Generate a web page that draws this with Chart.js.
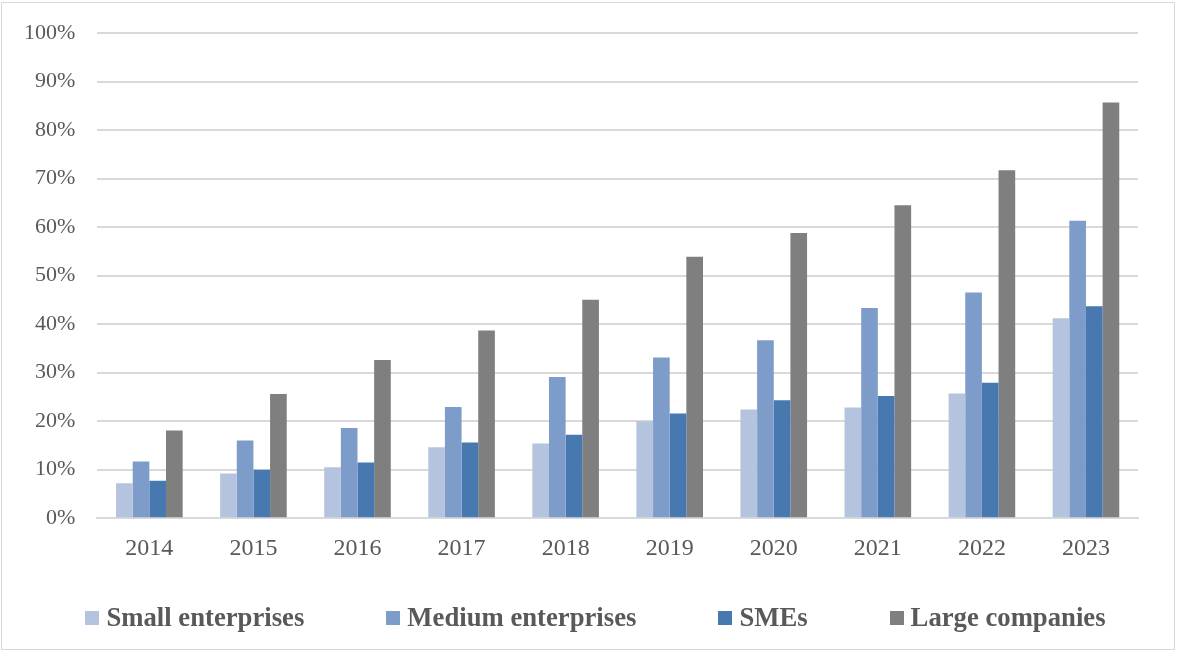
<!DOCTYPE html>
<html>
<head>
<meta charset="utf-8">
<script src="https://cdn.jsdelivr.net/npm/chart.js@4/dist/chart.umd.min.js"></script>
<style>
  html, body { margin: 0; padding: 0; background: #fff; }
  #wrap {
    position: absolute; left: 1px; top: 2px;
    width: 1174px; height: 648px;
    border: 1px solid #d9d9d9;
    box-sizing: border-box;
  }
  #chartBox { position: absolute; left: 0; top: 0; right: 0; bottom: 0; }
  canvas { display: block; }
  #legend {
    position: absolute; left: 0; right: 0; top: 599px;
    padding-left: 15px;
    display: flex; justify-content: center; align-items: center;
    gap: 82px;
    font-family: "Liberation Serif", "Times New Roman", serif;
    font-weight: bold; font-size: 26.7px; color: #595959;
  }
  #legend .item { display: flex; align-items: center; white-space: nowrap; }
  #legend .swatch { width: 14px; height: 14px; margin-right: 7px; }
</style>
</head>
<body>
<div id="wrap">
  <div id="chartBox"><canvas id="chart"></canvas></div>
  <div id="legend"></div>
</div>
<script>
// Share of enterprises per year, in percent
const years = ['2014', '2015', '2016', '2017', '2018', '2019', '2020', '2021', '2022', '2023'];
const smallEnterprises  = [7.2, 9.2, 10.5, 14.6, 15.4, 20.0, 22.4, 22.8, 25.7, 41.2];
const mediumEnterprises = [11.7, 16.0, 18.6, 22.9, 29.1, 33.1, 36.7, 43.3, 46.5, 61.3];
const smes              = [7.7, 10.0, 11.5, 15.6, 17.2, 21.6, 24.3, 25.2, 27.9, 43.7];
const largeCompanies    = [18.1, 25.6, 32.6, 38.7, 45.0, 53.9, 58.8, 64.5, 71.7, 85.7];

const yTicks = [0, 10, 20, 30, 40, 50, 60, 70, 80, 90, 100];

const serif = '"Liberation Serif", "Times New Roman", serif';
const gridColor = '#d9d9d9';

const ctx = document.getElementById('chart').getContext('2d');

const chart = new Chart(ctx, {
  type: 'bar',
  data: {
    labels: years,
    datasets: [
      { label: 'Small enterprises',  data: smallEnterprises,  backgroundColor: '#b4c4de' },
      { label: 'Medium enterprises', data: mediumEnterprises, backgroundColor: '#7e9cc9' },
      { label: 'SMEs',               data: smes,              backgroundColor: '#4878b0' },
      { label: 'Large companies',    data: largeCompanies,    backgroundColor: '#7f7f7f' }
    ]
  },
  options: {
    responsive: true,
    maintainAspectRatio: false,
    animation: false,
    datasets: {
      bar: { barPercentage: 1.0, categoryPercentage: 0.64, borderWidth: 0 }
    },
    layout: {
      padding: { left: 0, right: 36, top: 30, bottom: 70 }
    },
    scales: {
      x: {
        grid: { display: false, drawTicks: false },
        border: { display: true, color: gridColor, width: 2 },
        ticks: {
          color: '#595959',
          font: { family: serif, size: 24 },
          padding: 16
        }
      },
      y: {
        min: 0,
        max: 100,
        afterBuildTicks: axis => { axis.ticks = yTicks.map(v => ({ value: v })); },
        // the top label fits inside the layout padding, no extra room needed
        afterFit: axis => { axis.paddingTop = 0; },
        grid: { color: gridColor, lineWidth: 2, drawTicks: false },
        border: { display: false },
        ticks: {
          color: '#595959',
          font: { family: serif, size: 22 },
          padding: 22,
          callback: v => v + '%'
        }
      }
    },
    plugins: {
      legend: { display: false },
      tooltip: { enabled: false }
    }
  }
});

// Legend row under the plot, built from the datasets
const legendEl = document.getElementById('legend');
chart.data.datasets.forEach(ds => {
  const item = document.createElement('span');
  item.className = 'item';
  const sw = document.createElement('span');
  sw.className = 'swatch';
  sw.style.background = ds.backgroundColor;
  const txt = document.createElement('span');
  txt.textContent = ds.label;
  item.appendChild(sw);
  item.appendChild(txt);
  legendEl.appendChild(item);
});
</script>
</body>
</html>
